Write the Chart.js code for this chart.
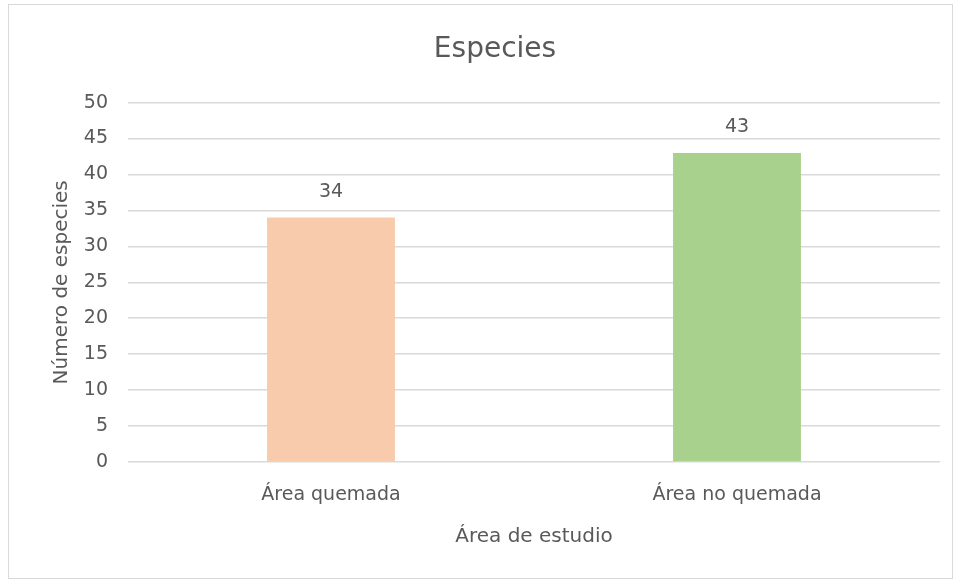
<!DOCTYPE html>
<html>
<head>
<meta charset="utf-8">
<script src="https://cdn.jsdelivr.net/npm/chart.js@4"></script>
<style>
	body { margin: 0; background: #fff; }
	#frame { position: absolute; left: 8px; top: 4px; width: 943px; height: 573px; border: 1px solid #d9d9d9; }
	#wrap { position: absolute; left: 0; top: 0; width: 961px; height: 581px; }
</style>
</head>
<body>
<div id="frame"></div>
<div id="wrap"><canvas id="chart"></canvas></div>
<script>
// chart data
const categories = ['Área quemada', 'Área no quemada'];
const speciesCount = [34, 43];
const barColors = ['#f8cbad', '#a9d18e'];
const yTicks = [0, 5, 10, 15, 20, 25, 30, 35, 40, 45, 50];

const textColor = '#595959';
const fontFamily = '"DejaVu Sans", sans-serif';

// draws the value above each bar
const valueLabels = {
	id: 'valueLabels',
	afterDatasetsDraw(chart) {
		const ctx = chart.ctx;
		const meta = chart.getDatasetMeta(0);
		ctx.save();
		ctx.fillStyle = textColor;
		ctx.font = '19px ' + fontFamily;
		ctx.textAlign = 'center';
		ctx.textBaseline = 'middle';
		meta.data.forEach((bar, i) => {
			ctx.fillText(String(speciesCount[i]), bar.x, bar.y - 26);
		});
		ctx.restore();
	}
};

new Chart(document.getElementById('chart'), {
	type: 'bar',
	data: {
		labels: categories,
		datasets: [{
			data: speciesCount,
			backgroundColor: barColors,
			categoryPercentage: 1,
			barPercentage: 0.315
		}]
	},
	options: {
		responsive: true,
		maintainAspectRatio: false,
		animation: false,
		layout: { padding: { left: 50, right: 21, top: 0, bottom: 20 } },
		plugins: {
			legend: { display: false },
			tooltip: { enabled: false },
			title: {
				display: true,
				text: 'Especies',
				color: textColor,
				font: { family: fontFamily, size: 28, weight: 'normal' },
				padding: { top: 33, bottom: 36 }
			}
		},
		scales: {
			x: {
				grid: { display: false },
				border: { display: false },
				ticks: { color: textColor, font: { family: fontFamily, size: 19 }, padding: 14 },
				title: {
					display: true,
					text: 'Área de estudio',
					color: textColor,
					font: { family: fontFamily, size: 20 },
					padding: { top: 0, bottom: 12 }
				},
				afterFit(scale) { scale.height = 99; }
			},
			y: {
				min: 0,
				max: 50,
				afterBuildTicks(scale) { scale.ticks = yTicks.map(v => ({ value: v })); },
				grid: { color: '#d9d9d9', lineWidth: 1.5, drawTicks: false },
				border: { display: false },
				ticks: { color: textColor, font: { family: fontFamily, size: 19 }, padding: 20 },
				title: {
					display: true,
					text: 'Número de especies',
					color: textColor,
					font: { family: fontFamily, size: 20 },
					padding: { top: 0, bottom: 0 }
				},
				afterFit(scale) { scale.width = 78; }
			}
		}
	},
	plugins: [valueLabels]
});
</script>
</body>
</html>
